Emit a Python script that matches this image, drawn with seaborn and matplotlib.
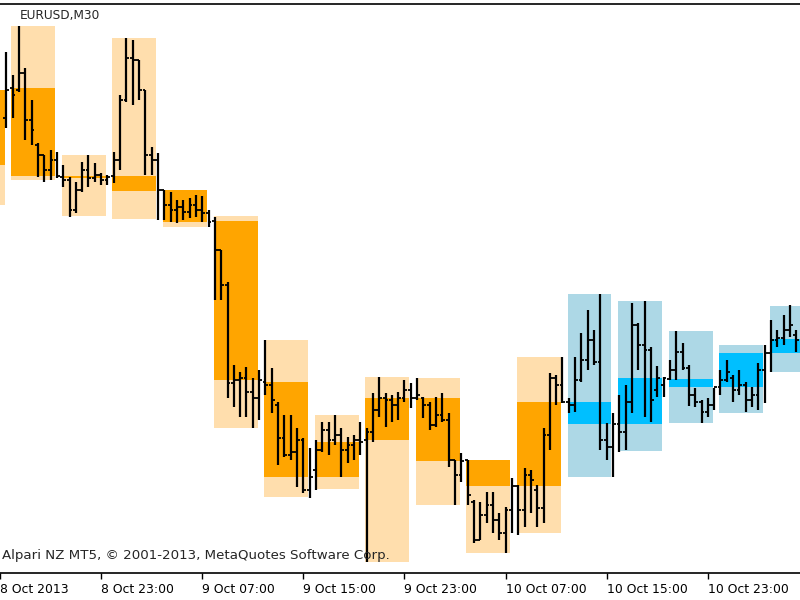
#!/usr/bin/env python3

"""EURUSD M30 bar chart with 4-hour range boxes, MetaTrader style."""

import numpy as np
import seaborn as sns
import matplotlib.pyplot as plt

# DATA (prices in points, 1 point = 0.00001)
# bars start at index -1; index 0 = 8 Oct 2013 16:00, one bar every 30 minutes
BAR_START = -1
open_pts = [
    135764, 135824, 135820, 135854, 135760, 135710, 135690, 135660, 135680,
    135646, 135640, 135580, 135620, 135660, 135644, 135650, 135640,
    135648, 135680, 135800, 135884, 135880, 135820, 135690, 135680,
    135620, 135590, 135580, 135586, 135576, 135590, 135580, 135574,
    135558, 135500, 135430, 135234, 135240, 135244, 135216, 135204,
    135236, 135230, 135190, 135124, 135090, 135096, 135120, 135020,
    135060, 135100, 135140, 135120, 135130, 135100, 135110, 135120,
    135120, 135136, 135180, 135204, 135200, 135190, 135204, 135220,
    135204, 135204, 135190, 135150, 135170, 135160, 135080, 135050,
    135080, 134996, 134920, 134970, 134990, 134960, 134934, 134980,
    135028, 134980, 135050, 135020, 134984, 135130, 135244, 135230,
    135196, 135190, 135240, 135280, 135320, 135276, 135120, 135106,
    135152, 135136, 135196, 135350, 135310, 135300, 135220, 135230,
    135242, 135260, 135296, 135264, 135210, 135196, 135176, 135190,
    135226, 135240, 135244, 135220, 135230, 135200, 135210, 135260,
    135294, 135320, 135324, 135340, 135330,
]
high_pts = [
    135896, 135850, 135948, 135864, 135800, 135714, 135690, 135700, 135696,
    135670, 135646, 135636, 135676, 135690, 135674, 135654, 135650,
    135696, 135810, 135924, 135920, 135880, 135820, 135706, 135694,
    135620, 135616, 135600, 135600, 135604, 135610, 135608, 135580,
    135566, 135500, 135436, 135270, 135256, 135266, 135244, 135260,
    135320, 135264, 135196, 135170, 135170, 135144, 135124, 135104,
    135120, 135156, 135156, 135170, 135144, 135126, 135130, 135156,
    135144, 135214, 135246, 135214, 135210, 135216, 135240, 135234,
    135244, 135206, 135196, 135206, 135214, 135174, 135080, 135094,
    135080, 135000, 134996, 135016, 135016, 134974, 134986, 135044,
    135030, 135064, 135060, 135030, 135144, 135254, 135250, 135286,
    135204, 135286, 135334, 135380, 135340, 135412, 135154, 135174,
    135210, 135230, 135394, 135354, 135398, 135306, 135268, 135246,
    135280, 135338, 135314, 135270, 135224, 135200, 135204, 135224,
    135260, 135280, 135250, 135260, 135236, 135226, 135274, 135310,
    135360, 135340, 135370, 135390, 135340,
]
low_pts = [
    135744, 135764, 135816, 135720, 135710, 135646, 135636, 135640, 135644,
    135626, 135566, 135574, 135616, 135626, 135636, 135630, 135630,
    135634, 135660, 135796, 135790, 135800, 135650, 135650, 135560,
    135560, 135556, 135554, 135560, 135564, 135566, 135556, 135546,
    135400, 135400, 135204, 135186, 135166, 135166, 135144, 135160,
    135210, 135174, 135070, 135086, 135080, 135026, 135014, 135004,
    135020, 135096, 135090, 135110, 135046, 135074, 135080, 135090,
    134876, 135116, 135166, 135146, 135156, 135160, 135196, 135184,
    135200, 135164, 135140, 135146, 135156, 135066, 134990, 135036,
    134990, 134914, 134920, 134954, 134934, 134920, 134894, 134934,
    134930, 134946, 134974, 134946, 134954, 135100, 135190, 135194,
    135174, 135176, 135236, 135260, 135270, 135100, 135080, 135046,
    135096, 135100, 135174, 135260, 135166, 135156, 135206, 135206,
    135240, 135240, 135260, 135188, 135186, 135154, 135166, 135180,
    135210, 135236, 135196, 135210, 135176, 135186, 135180, 135194,
    135256, 135306, 135310, 135326, 135296,
]
close_pts = [
    135820, 135810, 135854, 135760, 135740, 135690, 135660, 135680, 135648,
    135640, 135580, 135620, 135660, 135644, 135650, 135640, 135646,
    135680, 135800, 135884, 135880, 135820, 135690, 135680, 135620,
    135590, 135580, 135586, 135576, 135590, 135580, 135574, 135556,
    135500, 135430, 135234, 135240, 135244, 135216, 135204, 135240,
    135230, 135200, 135124, 135090, 135096, 135120, 135020, 135046,
    135100, 135140, 135120, 135130, 135100, 135110, 135120, 135116,
    135136, 135180, 135204, 135200, 135190, 135204, 135220, 135204,
    135210, 135190, 135150, 135170, 135160, 135080, 135050, 135078,
    135010, 134920, 134970, 134990, 134960, 134934, 134980, 135028,
    134980, 135050, 135040, 134984, 135130, 135244, 135230, 135196,
    135190, 135240, 135280, 135320, 135276, 135120, 135106, 135152,
    135136, 135196, 135350, 135310, 135300, 135200, 135244, 135244,
    135260, 135296, 135264, 135210, 135196, 135176, 135190, 135226,
    135240, 135256, 135220, 135230, 135200, 135210, 135260, 135294,
    135320, 135324, 135340, 135350, 135320,
]

# 4-hour boxes (8 bars each), first box starts at bar -8
BOX_START = -8
box_high = [135820, 135948, 135690, 135924, 135620, 135568, 135320, 135170, 135246,
            135244, 135080, 135286, 135412, 135398, 135338, 135310, 135388]
box_low = [135590, 135640, 135568, 135562, 135546, 135144, 135006, 135022, 134876,
           134990, 134894, 134934, 135046, 135098, 135154, 135174, 135256]
box_open = [135820, 135824, 135648, 135648, 135620, 135558, 135236, 135116, 135204,
            135204, 135080, 135196, 135152, 135152, 135226, 135226, 135294]
box_close = [135670, 135648, 135644, 135618, 135556, 135240, 135046, 135046, 135120,
             135078, 135028, 135028, 135196, 135244, 135242, 135294, 135322]

tick_pos = [-2, 14, 30, 46, 62, 78, 94, 110]
tick_labels = ["8 Oct 2013", "8 Oct 23:00", "9 Oct 07:00", "9 Oct 15:00",
               "9 Oct 23:00", "10 Oct 07:00", "10 Oct 15:00", "10 Oct 23:00"]

SYMBOL_TEXT = "EURUSD,M30"
COPYRIGHT_TEXT = "Alpari NZ MT5, \u00a9 2001-2013, MetaQuotes Software Corp."

# colours
DOWN_RANGE = "#FFDEAD"
DOWN_BODY = "#FFA500"
UP_RANGE = "#ADD8E6"
UP_BODY = "#00BFFF"

sns.set_theme(style="white")
plt.rcParams["font.family"] = ["DejaVu Sans"]

o = np.array(open_pts) / 1e5
h = np.array(high_pts) / 1e5
l = np.array(low_pts) / 1e5
c = np.array(close_pts) / 1e5
x = np.arange(len(o)) + BAR_START

bh = np.array(box_high) / 1e5
bl = np.array(box_low) / 1e5
bo = np.array(box_open) / 1e5
bc = np.array(box_close) / 1e5
bx = BOX_START + 8 * np.arange(len(bh)) - 0.2
is_up = bc > bo

fig = plt.figure(figsize=(8, 6), dpi=100)
ax = fig.add_axes([0, 27 / 600, 1, 569 / 600])

# boxes: full range light, open-close body dark
ax.bar(bx, bh - bl, bottom=bl, width=6.95, align="edge",
       color=np.where(is_up, UP_RANGE, DOWN_RANGE), linewidth=0, zorder=1)
ax.bar(bx, np.abs(bc - bo), bottom=np.minimum(bo, bc), width=6.95, align="edge",
       color=np.where(is_up, UP_BODY, DOWN_BODY), linewidth=0, zorder=2)

# OHLC bars
ax.vlines(x, l, h, color="black", linewidth=1.6, zorder=3)
ax.hlines(o, x - 0.45, x, color="black", linewidth=1.3, zorder=3)
ax.hlines(c, x, x + 0.45, color="black", linewidth=1.3, zorder=3)

ax.set_xlim(-1.74, 124.58)
ax.set_ylim(1.34854, 1.35992)

ax.set_xticks(tick_pos)
ax.set_xticklabels(tick_labels, fontsize=8.9, color="black")
for lab in ax.get_xticklabels():
    lab.set_horizontalalignment("left")
ax.tick_params(axis="x", direction="out", length=4, width=1, color="black",
               pad=3, bottom=True)
ax.set_yticks([])

for side in ["left", "right"]:
    ax.spines[side].set_visible(False)
for side in ["top", "bottom"]:
    ax.spines[side].set_visible(True)
    ax.spines[side].set_color("black")
    ax.spines[side].set_linewidth(1.2)

fig.text(20 / 800, 1 - 15 / 600, SYMBOL_TEXT, fontsize=8.7, va="center", ha="left")
ax.text(2 / 800, 1 - 555 / 600, COPYRIGHT_TEXT, fontsize=9.6, va="center", ha="left",
        transform=fig.transFigure, zorder=5)

fig.savefig("out.png", dpi=100, facecolor="white")
